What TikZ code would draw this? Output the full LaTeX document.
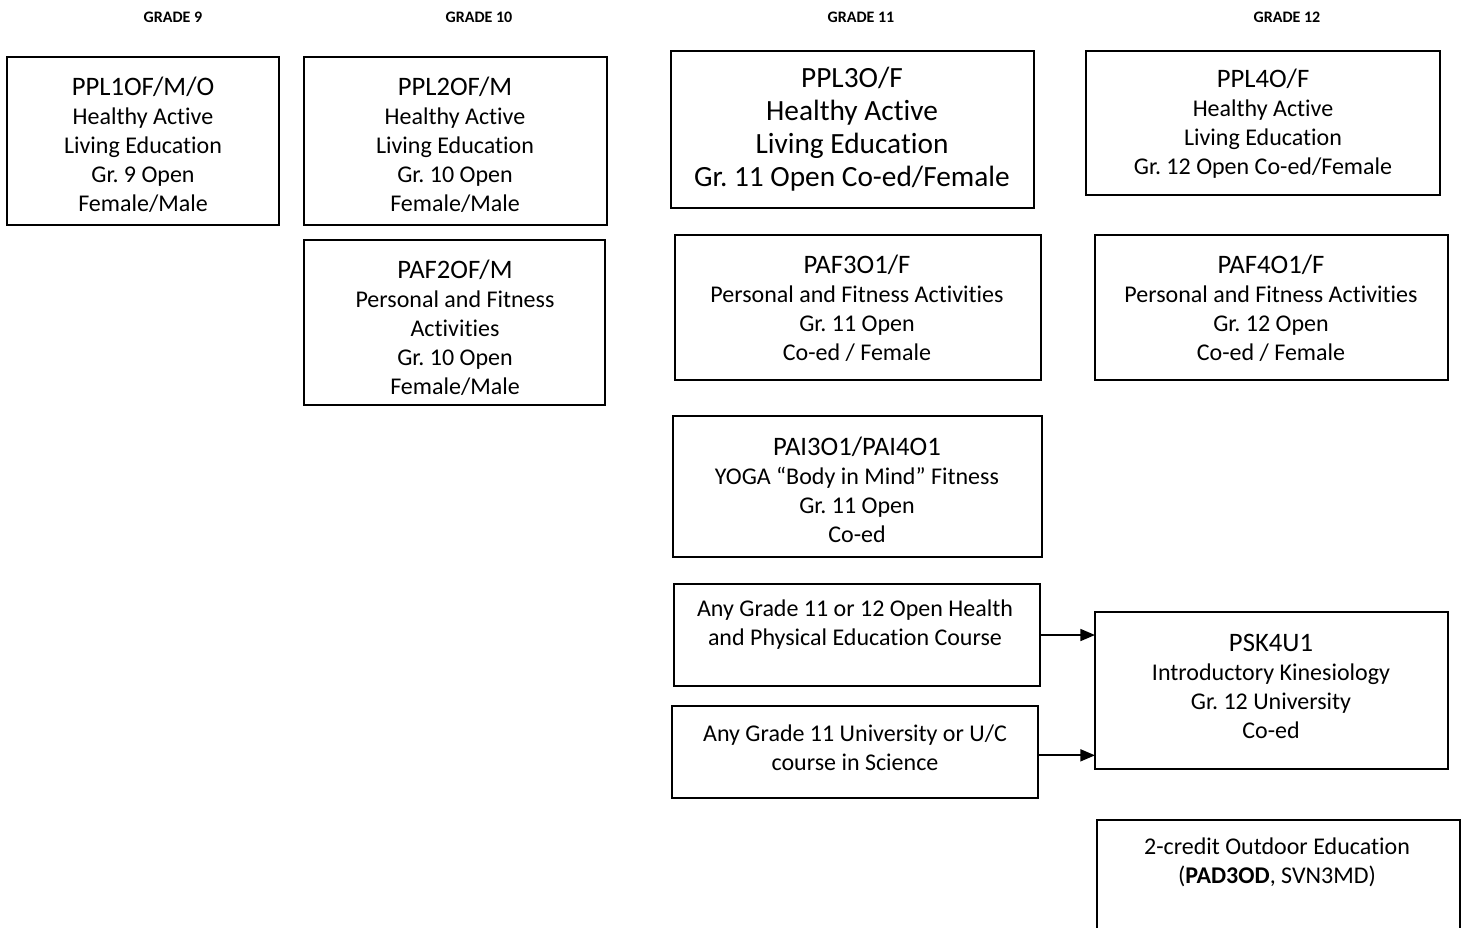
\documentclass[tikz,border=0pt]{standalone}
\usepackage{fontspec}
\setmainfont{Carlito}[Ligatures={NoCommon}]
\usetikzlibrary{arrows.meta}
\frenchspacing

% one unit = one pixel of a 1461 x 928 canvas, y pointing down
\newcommand\cbox[5]{%
  \node[box, minimum width={(#4-#2)*0.75pt}, minimum height={(#5-#3)*0.75pt}]
    (#1) at ({(#2+#4)/2},{(#3+#5)/2}) {};}

\tikzset{
  box/.style={draw=black, line width=1.1pt, inner sep=0pt, outer sep=0pt},
  body/.style={align=center, inner sep=0pt, font=\fontsize{18}{21.75}\selectfont},
  bigbody/.style={align=center, inner sep=0pt, font=\fontsize{22}{24.75}\selectfont},
  head/.style={inner sep=0pt, font=\fontsize{12}{14}\selectfont\bfseries},
  link/.style={line width=1.3pt, -{Triangle[length=11pt,width=9pt]}},
}
\newcommand\ttl[1]{{\fontsize{20}{21.75}\selectfont #1}}

\begin{document}
\begin{tikzpicture}[x=0.75pt, y=-0.75pt]
\useasboundingbox (0,0) rectangle (1461,928);

% grade headings
\node[head] (g9)  at (173,17)  {GRADE 9};
\node[head] (g10) at (479,17)  {GRADE 10};
\node[head] (g11) at (861,17)  {GRADE 11};
\node[head] (g12) at (1287,17) {GRADE 12};

% course boxes
\cbox{ppl1}{7}{57}{279}{225}
\cbox{ppl2}{304}{57}{607}{225}
\cbox{paf2}{304}{240}{605}{405}
\cbox{ppl3}{671}{51}{1034}{208}
\cbox{ppl4}{1086}{51}{1440}{195}
\cbox{paf3}{675}{235}{1041}{380}
\cbox{paf4}{1095}{235}{1448}{380}
\cbox{pai}{673}{416}{1042}{557}
\cbox{any1}{674}{584}{1040}{686}
\cbox{any2}{672}{706}{1038}{798}
\cbox{psk}{1095}{612}{1448}{769}
\cbox{pad}{1097}{820}{1460}{980}

% course texts
\node[body] (tppl1) at (143,145) {\ttl{PPL1OF/M/O}\\Healthy Active\\Living Education\\Gr. 9 Open\\Female/Male};
\node[body] (tppl2) at (455,145) {\ttl{PPL2OF/M}\\Healthy Active\\Living Education\\Gr. 10 Open\\Female/Male};
\node[body] (tpaf2) at (455,328) {\ttl{PAF2OF/M}\\Personal and Fitness\\Activities\\Gr. 10 Open\\Female/Male};
\node[bigbody] (tppl3) at (852,129) {PPL3O/F\\Healthy Active\\Living Education\\Gr. 11 Open Co-ed/Female};
\node[body] (tppl4) at (1263,124) {\ttl{PPL4O/F}\\Healthy Active\\Living Education\\Gr. 12 Open Co-ed/Female};
\node[body] (tpaf3) at (857,308) {\ttl{PAF3O1/F}\\Personal and Fitness Activities\\Gr. 11 Open\\Co-ed / Female};
\node[body] (tpaf4) at (1271,308) {\ttl{PAF4O1/F}\\Personal and Fitness Activities\\Gr. 12 Open\\Co-ed / Female};
\node[body] (tpai) at (857,490) {\ttl{PAI3O1/PAI4O1}\\YOGA “Body in Mind” Fitness\\Gr. 11 Open\\Co-ed};
\node[body] (tany1) at (855,625) {Any Grade 11 or 12 Open Health\\and Physical Education Course};
\node[body] (tany2) at (855,748) {Any Grade 11 University or U/C\\course in Science};
\node[body] (tpsk) at (1271,686) {\ttl{PSK4U1}\\Introductory Kinesiology\\Gr. 12 University\\Co-ed};
\node[body] (tpad) at (1277,862) {2-credit Outdoor Education\\(\textbf{PAD3OD}, SVN3MD)};

% prerequisites of PSK4U1
\draw[link] (any1.east) -- (any1.east -| psk.west);
\draw[link] ([yshift=-2.5pt]any2.east) -- ([yshift=-2.5pt]any2.east -| psk.west);
\end{tikzpicture}
\end{document}
